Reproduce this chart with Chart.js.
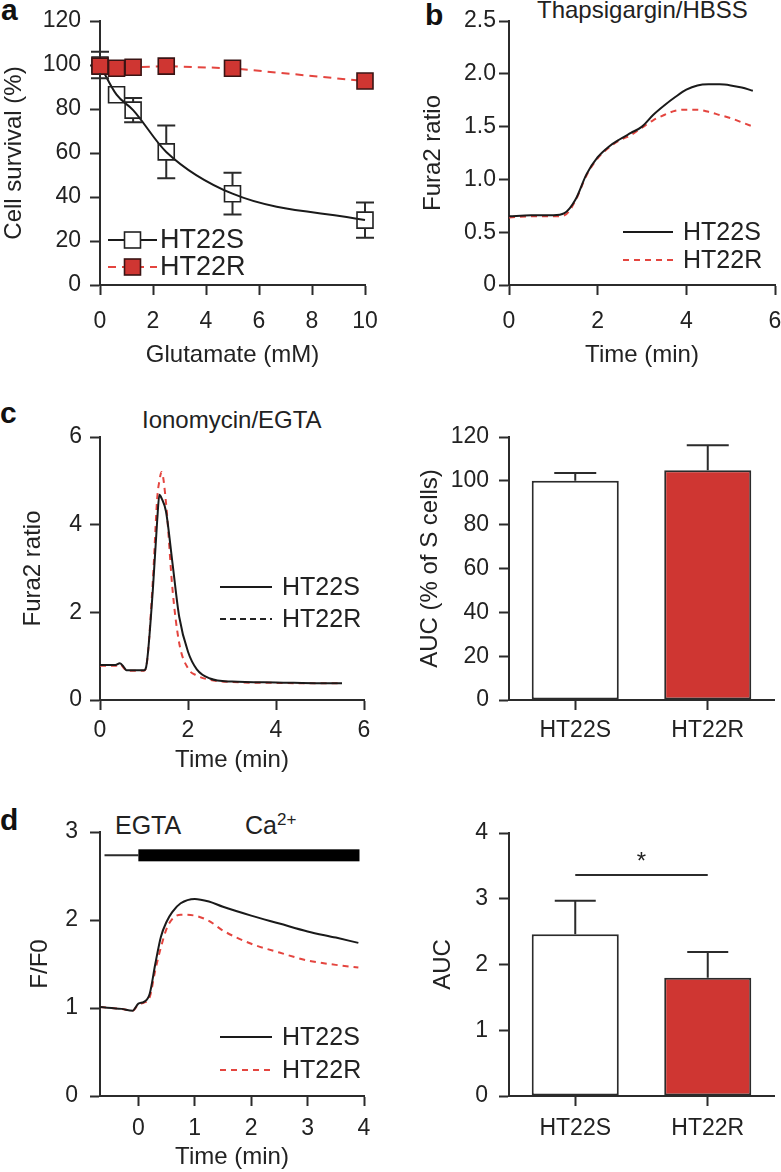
<!DOCTYPE html>
<html>
<head>
<meta charset="utf-8">
<script src="https://cdn.jsdelivr.net/npm/chart.js@4.4.0/dist/chart.umd.min.js"></script>
<style>
  body { margin: 0; background: #fff; width: 781px; height: 1172px; position: relative; overflow: hidden;
         font-family: "Liberation Sans", Arial, sans-serif; color: #222; }
  .panel { position: absolute; }
  .lbl { position: absolute; white-space: nowrap; line-height: 1; }
  .letter { font-weight: bold; font-size: 30px; color: #111; }
  .ttl { font-size: 24px; }
  sup { font-size: 17px; vertical-align: 0; position: relative; top: -9px; }
</style>
</head>
<body>

<div class="lbl letter" style="left:1px; top:-5px">a</div>
<div class="lbl letter" style="left:425px; top:0px">b</div>
<div class="lbl letter" style="left:0px; top:398px">c</div>
<div class="lbl letter" style="left:0px; top:805px">d</div>

<div class="lbl ttl" style="left:537px; top:-2px">Thapsigargin/HBSS</div>
<div class="lbl ttl" style="left:142px; top:408px">Ionomycin/EGTA</div>
<div class="lbl ttl" style="left:115px; top:813px; font-size:25px">EGTA</div>
<div class="lbl ttl" style="left:245px; top:813px; font-size:25px">Ca<sup>2+</sup></div>

<canvas id="chartA" class="panel" width="390" height="370" style="left:0; top:0"></canvas>
<canvas id="chartB" class="panel" width="391" height="370" style="left:390px; top:0"></canvas>
<canvas id="chartC" class="panel" width="390" height="395" style="left:0; top:380px"></canvas>
<canvas id="chartCauc" class="panel" width="391" height="395" style="left:390px; top:380px"></canvas>
<canvas id="chartD" class="panel" width="390" height="400" style="left:0; top:772px"></canvas>
<canvas id="chartDauc" class="panel" width="391" height="400" style="left:390px; top:772px"></canvas>

<script>
// ===============================
// DATA
// ===============================

const seriesNames = ["HT22S", "HT22R"];

// a - glutamate dose response
const glutamateMM = [0, 0.625, 1.25, 2.5, 5, 10];
const survivalS = [100, 86.5, 79.5, 60.5, 41.5, 29.5];
const survivalSErr = [6, 0, 5.5, 12, 9.5, 8];
const survivalR = [99.5, 98.5, 99, 99.5, 98.5, 92.7];

// b - thapsigargin/HBSS trace
const timeB = [0, 0.5, 1, 1.25, 1.5, 1.75, 2, 2.25, 2.5, 2.75, 3, 3.25, 3.5, 3.75, 4, 4.25, 4.5, 4.75, 5, 5.25, 5.5];
const fura2S_B = [0.65, 0.66, 0.66, 0.68, 0.81, 1.05, 1.21, 1.31, 1.38, 1.44, 1.50, 1.61, 1.70, 1.78, 1.85, 1.89, 1.90, 1.90, 1.89, 1.87, 1.84];
const fura2R_B = [0.64, 0.65, 0.65, 0.66, 0.80, 1.04, 1.20, 1.30, 1.37, 1.42, 1.49, 1.56, 1.61, 1.65, 1.66, 1.66, 1.64, 1.61, 1.58, 1.54, 1.50];

// c - ionomycin/EGTA trace
const timeC = [0, 0.35, 0.45, 0.55, 0.6, 1.0, 1.05, 1.2, 1.3, 1.35, 1.4, 1.5, 1.65, 1.8, 2.0, 2.2, 2.5, 3, 4, 5, 5.5];
const fura2S_C = [0.80, 0.80, 0.84, 0.74, 0.68, 0.68, 0.76, 2.5, 4.1, 4.68, 4.6, 4.3, 3.1, 1.9, 1.1, 0.70, 0.49, 0.42, 0.40, 0.38, 0.38];
const fura2R_C = [0.78, 0.78, 0.82, 0.72, 0.67, 0.67, 0.75, 2.7, 4.6, 5.0, 5.2, 4.5, 2.5, 1.3, 0.72, 0.56, 0.46, 0.41, 0.39, 0.38, 0.38];
const aucC = [100, 104.8];
const aucCErr = [3.6, 11.4];

// d - EGTA then Ca2+ re-addition
const timeD = [-0.68, -0.3, -0.1, 0, 0.1, 0.2, 0.3, 0.4, 0.5, 0.6, 0.75, 1.0, 1.25, 1.5, 2.0, 2.5, 3.0, 3.5, 3.9];
const ratioS_D = [1.01, 0.99, 0.97, 1.05, 1.07, 1.16, 1.50, 1.81, 1.98, 2.09, 2.19, 2.24, 2.21, 2.15, 2.05, 1.96, 1.87, 1.80, 1.74];
const ratioR_D = [1.01, 0.99, 0.97, 1.04, 1.06, 1.12, 1.43, 1.69, 1.90, 2.01, 2.06, 2.05, 1.99, 1.88, 1.73, 1.63, 1.54, 1.49, 1.46];
const timeTicksD = [0, 1, 2, 3, 4];
const egtaSpan = [-0.6, 0];
const caSpan = [0, 3.92];
const barLevel = 2.735;
const aucD = [2.46, 1.80];
const aucDErr = [0.51, 0.39];
const sigLevel = 3.36;

// ===============================
// STYLE HELPERS
// ===============================

const INK = "#2b2b2b";
const RED_LINE = "#e4453f";
const RED_FILL = "#cf3632";
const FONT = '"Liberation Sans", Arial, sans-serif';

Chart.defaults.font.family = FONT;
Chart.defaults.color = "#222";
Chart.defaults.animation = false;
Chart.defaults.plugins.legend.display = false;
Chart.defaults.plugins.tooltip.enabled = false;

function pts(xs, ys) {
  return xs.map((x, i) => ({ x: x, y: ys[i] }));
}

function xAxis(c) {
  const ax = {
    type: c.type || "linear",
    min: c.min, max: c.max,
    offset: !!c.offset,
    title: { display: true, text: c.title, color: "#222", font: { size: 24, lineHeight: 1.2 }, padding: { top: 0, bottom: 0 } },
    ticks: { stepSize: c.step, color: "#222", font: { size: 23 }, padding: c.pad, maxRotation: 0, autoSkip: false },
    grid: { display: true, drawOnChartArea: false, drawTicks: true, tickLength: 10, tickWidth: 2, tickColor: INK, offset: false },
    border: { display: true, color: INK, width: 2 },
    afterFit: s => { s.height = c.h; s.paddingLeft = 0; s.paddingRight = 0; }
  };
  if (!c.title) ax.title.display = false;
  if (c.ticksAt) ax.afterBuildTicks = s => { s.ticks = c.ticksAt.map(v => ({ value: v })); };
  return ax;
}

function yAxis(c) {
  return {
    min: c.min, max: c.max,
    title: { display: true, text: c.title, color: "#222", font: { size: 24, lineHeight: 1.2 }, padding: { top: c.tpad, bottom: 0 } },
    ticks: { stepSize: c.step, color: "#222", font: { size: 23 }, padding: c.pad, callback: c.fmt },
    grid: { display: true, drawOnChartArea: false, drawTicks: true, tickLength: 10, tickWidth: 2, tickColor: INK },
    border: { display: true, color: INK, width: 2 },
    afterFit: s => { s.width = c.w; s.paddingTop = 0; s.paddingBottom = 0; }
  };
}

// ===============================
// PLUGINS
// ===============================

// legend drawn inside the plot, rows given in canvas pixels
const insetLegend = {
  id: "insetLegend",
  afterDatasetsDraw(chart, args, o) {
    if (!o || !o.rows) return;
    const ctx = chart.ctx;
    ctx.save();
    o.rows.forEach(r => {
      const ds = chart.data.datasets[r.index];
      ctx.strokeStyle = r.color || ds.borderColor;
      ctx.lineWidth = ds.borderWidth;
      ctx.setLineDash(r.dash || ds.borderDash || []);
      ctx.beginPath();
      ctx.moveTo(o.x0, r.y);
      ctx.lineTo(o.x1, r.y);
      ctx.stroke();
      ctx.setLineDash([]);
      if (ds.pointRadius) {
        const side = ds.pointRadius * Math.SQRT2;
        const cx = (o.x0 + o.x1) / 2;
        ctx.fillStyle = ds.legendFill || ds.pointBackgroundColor;
        ctx.strokeStyle = ds.pointBorderColor;
        ctx.lineWidth = ds.pointBorderWidth;
        ctx.fillRect(cx - side / 2, r.y - side / 2, side, side);
        ctx.strokeRect(cx - side / 2, r.y - side / 2, side, side);
      }
      ctx.fillStyle = "#222";
      ctx.font = o.size + "px " + FONT;
      ctx.textBaseline = "middle";
      ctx.textAlign = "left";
      ctx.fillText(ds.label, o.tx, r.y + 1);
    });
    ctx.restore();
  }
};

// vertical error bars with caps
const errorBars = {
  id: "errorBars",
  afterDatasetsDraw(chart, args, o) {
    if (!o || !o.sets) return;
    const ctx = chart.ctx;
    const y = chart.scales.y;
    ctx.save();
    ctx.strokeStyle = INK;
    ctx.lineWidth = 2;
    o.sets.forEach(set => {
      const meta = chart.getDatasetMeta(set.index);
      const ds = chart.data.datasets[set.index];
      set.err.forEach((e, i) => {
        if (!e) return;
        const d = ds.data[i];
        const v = typeof d === "object" ? d.y : d;
        const el = meta.data[i];
        const ends = set.both ? [[v + e, -1], [v - e, 1]] : [[v + e, -1]];
        ends.forEach(([val, dir]) => {
          const py = y.getPixelForValue(val);
          ctx.beginPath();
          ctx.moveTo(el.x, el.y + dir * set.gap);
          ctx.lineTo(el.x, py);
          ctx.moveTo(el.x - set.cap / 2, py);
          ctx.lineTo(el.x + set.cap / 2, py);
          ctx.stroke();
        });
      });
    });
    ctx.restore();
  }
};

Chart.register(insetLegend, errorBars);

// ===============================
// PANEL A
// ===============================

new Chart(document.getElementById("chartA"), {
  type: "line",
  data: {
    datasets: [
      {
        label: seriesNames[0], data: pts(glutamateMM, survivalS), order: 1,
        borderColor: "#1a1a1a", borderWidth: 2, cubicInterpolationMode: "monotone", tension: 0.4,
        pointStyle: "rect", pointRadius: 11.3, pointBorderWidth: 1.6,
        pointBorderColor: "#222", pointBackgroundColor: "rgba(255,255,255,0)", legendFill: "#fff", clip: false
      },
      {
        label: seriesNames[1], data: pts(glutamateMM, survivalR), order: 0,
        borderColor: RED_LINE, borderWidth: 2, borderDash: [8, 6], tension: 0,
        pointStyle: "rect", pointRadius: 11.3, pointBorderWidth: 1.6,
        pointBorderColor: "#3a1414", pointBackgroundColor: RED_FILL, clip: false
      }
    ]
  },
  options: {
    responsive: false,
    devicePixelRatio: 1,
    layout: { padding: { top: 21, right: 25, left: 0, bottom: 0 } },
    scales: {
      x: xAxis({ min: 0, max: 10, step: 2, title: "Glutamate (mM)", pad: 13, h: 85 }),
      y: yAxis({ min: 0, max: 120, step: 20, title: "Cell survival (%)", pad: 9, w: 100, tpad: 0 })
    },
    plugins: {
      insetLegend: { x0: 108, x1: 157, tx: 160, size: 27, rows: [{ index: 0, y: 240 }, { index: 1, y: 267 }] },
      errorBars: { sets: [{ index: 0, err: survivalSErr, cap: 18, gap: 8, both: true }] }
    }
  }
});

// ===============================
// PANEL B
// ===============================

new Chart(document.getElementById("chartB"), {
  type: "line",
  data: {
    datasets: [
      { label: seriesNames[0], data: pts(timeB, fura2S_B), borderColor: "#1a1a1a", borderWidth: 2,
        pointRadius: 0, cubicInterpolationMode: "monotone", order: 0 },
      { label: seriesNames[1], data: pts(timeB, fura2R_B), borderColor: RED_LINE, borderWidth: 2,
        borderDash: [6, 5], pointRadius: 0, cubicInterpolationMode: "monotone", order: 1 }
    ]
  },
  options: {
    responsive: false,
    devicePixelRatio: 1,
    layout: { padding: { top: 21, right: 6, left: 0, bottom: 0 } },
    scales: {
      x: xAxis({ min: 0, max: 6, step: 2, title: "Time (min)", pad: 13, h: 85 }),
      y: yAxis({ min: 0, max: 2.5, step: 0.5, title: "Fura2 ratio", pad: 3, w: 119, tpad: 28.6,
                 fmt: v => (v === 0 ? "0" : v.toFixed(1)) })
    },
    plugins: {
      insetLegend: { x0: 233, x1: 283, tx: 293, size: 25, rows: [{ index: 0, y: 232 }, { index: 1, y: 260 }] }
    }
  }
});

// ===============================
// PANEL C (trace + AUC)
// ===============================

new Chart(document.getElementById("chartC"), {
  type: "line",
  data: {
    datasets: [
      { label: seriesNames[0], data: pts(timeC, fura2S_C), borderColor: "#1a1a1a", borderWidth: 2,
        pointRadius: 0, cubicInterpolationMode: "monotone", order: 0 },
      { label: seriesNames[1], data: pts(timeC, fura2R_C), borderColor: RED_LINE, borderWidth: 2,
        borderDash: [6, 5], pointRadius: 0, cubicInterpolationMode: "monotone", order: 1 }
    ]
  },
  options: {
    responsive: false,
    devicePixelRatio: 1,
    layout: { padding: { top: 57, right: 26, left: 0, bottom: 0 } },
    scales: {
      x: xAxis({ min: 0, max: 6, step: 2, title: "Time (min)", pad: 7, h: 75 }),
      y: yAxis({ min: 0, max: 6, step: 2, title: "Fura2 ratio", pad: 8, w: 100, tpad: 18.6 })
    },
    plugins: {
      insetLegend: { x0: 220, x1: 272, tx: 282, size: 25,
                     rows: [{ index: 0, y: 207 }, { index: 1, y: 239, color: "#222", dash: [6, 4] }] }
    }
  }
});

new Chart(document.getElementById("chartCauc"), {
  type: "bar",
  data: {
    labels: seriesNames,
    datasets: [{ data: aucC, backgroundColor: ["#ffffff", RED_FILL], borderColor: INK, borderWidth: 2,
                 borderSkipped: false, barPercentage: 0.657, categoryPercentage: 1 }]
  },
  options: {
    responsive: false,
    devicePixelRatio: 1,
    layout: { padding: { top: 57, right: 7, left: 0, bottom: 0 } },
    scales: {
      x: xAxis({ type: "category", offset: true, pad: 7, h: 75 }),
      y: yAxis({ min: 0, max: 120, step: 20, title: "AUC (% of S cells)", pad: 10, w: 119, tpad: 25.6 })
    },
    plugins: {
      errorBars: { sets: [{ index: 0, err: aucCErr, cap: 42, gap: 0, both: false }] }
    }
  }
});

// ===============================
// PANEL D (trace + AUC)
// ===============================

const egtaBarPlugin = {
  id: "egtaBar",
  afterDatasetsDraw(chart) {
    const x = chart.scales.x, y = chart.scales.y, ctx = chart.ctx;
    const py = y.getPixelForValue(barLevel);
    ctx.save();
    ctx.strokeStyle = INK;
    ctx.lineWidth = 2;
    ctx.beginPath();
    ctx.moveTo(x.getPixelForValue(egtaSpan[0]), py);
    ctx.lineTo(x.getPixelForValue(egtaSpan[1]), py);
    ctx.stroke();
    ctx.fillStyle = "#000";
    const x0 = x.getPixelForValue(caSpan[0]);
    ctx.fillRect(x0, py - 6, x.getPixelForValue(caSpan[1]) - x0, 12);
    ctx.restore();
  }
};

new Chart(document.getElementById("chartD"), {
  type: "line",
  data: {
    datasets: [
      { label: seriesNames[0], data: pts(timeD, ratioS_D), borderColor: "#1a1a1a", borderWidth: 2,
        pointRadius: 0, cubicInterpolationMode: "monotone", order: 0 },
      { label: seriesNames[1], data: pts(timeD, ratioR_D), borderColor: RED_LINE, borderWidth: 2,
        borderDash: [6, 5], pointRadius: 0, cubicInterpolationMode: "monotone", order: 1 }
    ]
  },
  options: {
    responsive: false,
    devicePixelRatio: 1,
    layout: { padding: { top: 60, right: 26, left: 0, bottom: 0 } },
    scales: {
      x: xAxis({ min: -0.68, max: 4, title: "Time (min)", pad: 9, h: 76, ticksAt: timeTicksD }),
      y: yAxis({ min: 0, max: 3, step: 1, title: "F/F0", pad: 12, w: 100, tpad: 25.6 })
    },
    plugins: {
      insetLegend: { x0: 220, x1: 272, tx: 282, size: 25, rows: [{ index: 0, y: 265 }, { index: 1, y: 298 }] }
    }
  },
  plugins: [egtaBarPlugin]
});

const sigBracketPlugin = {
  id: "sigBracket",
  afterDatasetsDraw(chart) {
    const x = chart.scales.x, y = chart.scales.y, ctx = chart.ctx;
    const py = y.getPixelForValue(sigLevel);
    const xa = x.getPixelForValue(0), xb = x.getPixelForValue(1);
    ctx.save();
    ctx.strokeStyle = INK;
    ctx.lineWidth = 2;
    ctx.beginPath();
    ctx.moveTo(xa, py);
    ctx.lineTo(xb, py);
    ctx.stroke();
    ctx.fillStyle = "#222";
    ctx.font = "24px " + FONT;
    ctx.textAlign = "center";
    ctx.textBaseline = "alphabetic";
    ctx.fillText("*", (xa + xb) / 2, py - 6);
    ctx.restore();
  }
};

new Chart(document.getElementById("chartDauc"), {
  type: "bar",
  data: {
    labels: seriesNames,
    datasets: [{ data: aucD, backgroundColor: ["#ffffff", RED_FILL], borderColor: INK, borderWidth: 2,
                 borderSkipped: false, barPercentage: 0.657, categoryPercentage: 1 }]
  },
  options: {
    responsive: false,
    devicePixelRatio: 1,
    layout: { padding: { top: 61, right: 7, left: 0, bottom: 0 } },
    scales: {
      x: xAxis({ type: "category", offset: true, pad: 9, h: 76 }),
      y: yAxis({ min: 0, max: 4, step: 1, title: "AUC", pad: 11, w: 119, tpad: 38.6 })
    },
    plugins: {
      errorBars: { sets: [{ index: 0, err: aucDErr, cap: 41, gap: 0, both: false }] }
    }
  },
  plugins: [sigBracketPlugin]
});
</script>
</body>
</html>
